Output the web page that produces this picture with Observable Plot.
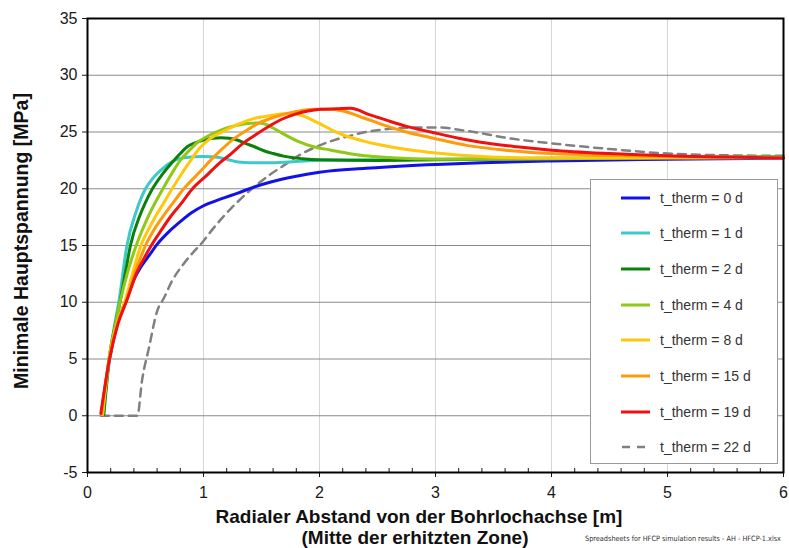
<!DOCTYPE html>
<html>
<head>
<meta charset="utf-8">
<script src="https://cdn.jsdelivr.net/npm/d3@7"></script>
<script src="https://cdn.jsdelivr.net/npm/@observablehq/plot@0.6"></script>
<style>
  html, body { margin: 0; padding: 0; background: #fff; }
  #wrap { position: relative; width: 789px; height: 548px; overflow: hidden; font-family: "Liberation Sans", Arial, sans-serif; }
  .title { position: absolute; font-weight: bold; color: #111; white-space: nowrap; }
  #legend { position: absolute; left: 590px; top: 179px; width: 186px; height: 283px; background: #fff; border: 1px solid #9a9a9a; }
  .item { position: absolute; left: 0; height: 20px; display: flex; align-items: center; }
  .item span { position: absolute; left: 69px; font-size: 14px; color: #333; white-space: nowrap; }
  .item svg { position: absolute; left: 30px; }
  #caption { position: absolute; top: 533px; left: 585px; font-family: "Liberation Sans Narrow", "DejaVu Sans Condensed", "Open Sans", sans-serif; font-size: 9px; line-height: 11px; color: #333; white-space: nowrap; transform-origin: 0 50%; }
</style>
</head>
<body>
<div id="wrap"></div>
<script>
// ---- data ----
const series = ["t_therm = 0 d","t_therm = 1 d","t_therm = 2 d","t_therm = 4 d","t_therm = 8 d","t_therm = 15 d","t_therm = 19 d","t_therm = 22 d"];

const x_0d = [0.12,0.19,0.26,0.34,0.40,0.46,0.53,0.60,0.70,0.80,0.90,1.00,1.15,1.29,1.45,1.58,1.80,2.00,2.40,2.80,3.40,4.00,5.00,6.00];
const y_0d = [0.2,5.0,8.2,10.4,12.0,13.1,14.1,15.1,16.2,17.1,17.9,18.5,19.1,19.6,20.2,20.6,21.1,21.45,21.8,22.05,22.3,22.45,22.6,22.7];

const x_1d = [0.14,0.19,0.23,0.27,0.34,0.42,0.50,0.57,0.65,0.75,0.85,1.00,1.10,1.20,1.30,1.40,1.60,1.80,2.00,3.00,4.00,5.00,6.00];
const y_1d = [0.1,5.0,7.8,10.0,15.0,18.0,20.0,21.0,21.8,22.5,22.75,22.85,22.8,22.6,22.35,22.3,22.3,22.4,22.5,22.6,22.7,22.75,22.8];

const x_2d = [0.14,0.19,0.24,0.28,0.33,0.37,0.45,0.50,0.56,0.64,0.72,0.80,0.86,0.93,1.00,1.08,1.15,1.22,1.29,1.36,1.44,1.52,1.60,1.70,1.85,2.00,2.50,3.00,4.00,5.00,6.00];
const y_2d = [0.1,5.3,8.0,10.0,12.8,15.0,17.6,18.8,20.0,21.2,22.2,23.1,23.7,24.05,24.3,24.45,24.5,24.45,24.3,24.0,23.7,23.35,23.1,22.85,22.65,22.55,22.5,22.55,22.65,22.75,22.8];

const x_4d = [0.13,0.19,0.24,0.28,0.35,0.42,0.53,0.65,0.73,0.80,0.88,0.95,1.03,1.11,1.20,1.29,1.38,1.47,1.53,1.60,1.67,1.74,1.81,1.95,2.10,2.25,2.39,2.60,2.81,3.20,4.00,5.00,6.00];
const y_4d = [0.1,5.3,8.0,10.0,12.8,15.0,17.7,20.0,21.4,22.5,23.4,24.1,24.6,25.0,25.35,25.6,25.75,25.8,25.7,25.35,24.95,24.55,24.2,23.7,23.4,23.1,22.9,22.75,22.65,22.6,22.65,22.75,22.8];

const x_8d = [0.13,0.19,0.26,0.32,0.39,0.46,0.53,0.60,0.66,0.73,0.81,0.89,0.96,1.03,1.10,1.18,1.30,1.44,1.58,1.70,1.78,1.85,1.93,2.01,2.12,2.24,2.38,2.53,2.75,2.96,3.39,4.00,5.00,6.00];
const y_8d = [0.1,5.3,8.3,10.0,12.6,15.0,16.5,17.8,18.8,20.0,21.3,22.5,23.5,24.2,24.7,25.1,25.7,26.2,26.45,26.6,26.6,26.45,26.1,25.7,25.1,24.6,24.2,23.85,23.45,23.2,22.85,22.7,22.7,22.75];

const x_15d = [0.12,0.19,0.26,0.33,0.41,0.50,0.58,0.66,0.74,0.83,0.98,1.06,1.15,1.26,1.38,1.48,1.58,1.67,1.80,1.95,2.08,2.18,2.27,2.36,2.45,2.53,2.75,2.96,3.28,3.60,4.00,4.50,5.00,6.00];
const y_15d = [0.1,5.2,8.2,10.0,12.6,15.0,16.5,17.7,18.8,20.0,21.6,22.5,23.4,24.4,25.2,25.8,26.2,26.5,26.8,27.0,27.0,26.9,26.65,26.3,26.0,25.7,25.0,24.5,23.8,23.4,23.1,22.95,22.85,22.75];

const x_19d = [0.115,0.19,0.26,0.34,0.42,0.50,0.55,0.62,0.72,0.80,0.905,1.03,1.13,1.24,1.34,1.44,1.58,1.67,1.80,1.90,2.01,2.15,2.27,2.33,2.41,2.50,2.59,2.75,2.96,3.20,3.39,3.70,4.00,4.50,5.00,5.50,6.00];
const y_19d = [0.2,5.0,8.0,10.2,12.5,14.1,15.0,16.1,17.6,18.6,20.0,21.2,22.2,23.1,24.0,24.7,25.6,26.1,26.6,26.85,27.0,27.05,27.1,26.95,26.6,26.3,26.0,25.5,25.0,24.45,24.1,23.7,23.4,23.1,22.9,22.8,22.7];

const x_22d = [0.115,0.43,0.47,0.53,0.60,0.66,0.73,0.83,0.92,1.00,1.06,1.15,1.24,1.29,1.43,1.58,1.67,1.80,1.95,2.10,2.24,2.40,2.53,2.70,2.90,3.05,3.20,3.39,3.60,4.00,4.50,5.00,5.50,6.00];
const y_22d = [0.0,0.0,3.1,6.0,9.2,10.4,11.9,13.4,14.5,15.4,16.2,17.3,18.3,18.8,20.1,21.3,21.9,22.8,23.6,24.2,24.6,25.0,25.2,25.35,25.4,25.4,25.2,24.9,24.5,24.0,23.5,23.1,22.95,22.9];

const xTicks = [0,1,2,3,4,5,6];
const xMinor = [0.2,0.4,0.6,0.8,1.2,1.4,1.6,1.8,2.2,2.4,2.6,2.8,3.2,3.4,3.6,3.8,4.2,4.4,4.6,4.8,5.2,5.4,5.6,5.8];
const xGrid = [1,2,3,4,5];
const yTicks = [-5,0,5,10,15,20,25,30,35];

const yTitle = "Minimale Hauptspannung [MPa]";
const xTitle1 = "Radialer Abstand von der Bohrlochachse [m]";
const xTitle2 = "(Mitte der erhitzten Zone)";
const caption = "Spreadsheets for HFCP simulation results - AH - HFCP-1.xlsx";

// ---- build table ----
const xs = [x_0d,x_1d,x_2d,x_4d,x_8d,x_15d,x_19d,x_22d];
const ys = [y_0d,y_1d,y_2d,y_4d,y_8d,y_15d,y_19d,y_22d];
const rows = [];
series.forEach((s, i) => xs[i].forEach((x, j) => rows.push({series: s, x, y: ys[i][j]})));
const solid = rows.filter(d => d.series !== series[7]);
const dashed = rows.filter(d => d.series === series[7]);

const colors = ["#1212e6","#3fc8c8","#0b800b","#8fc815","#ffc80a","#ff9a0a","#f01010","#808080"];

const chart = Plot.plot({
  width: 789, height: 548,
  marginLeft: 87, marginRight: 6, marginTop: 18, marginBottom: 76,
  x: {domain: [0, 6]},
  y: {domain: [-5, 35]},
  color: {domain: series, range: colors},
  style: {fontFamily: "'Liberation Sans', Arial, sans-serif", fontSize: "16px", color: "#1a1a1a", background: "white", overflow: "visible"},
  marks: [
    Plot.gridX({ticks: xGrid, stroke: "#d6d6d6", strokeOpacity: 1, strokeWidth: 1}),
    Plot.gridY({ticks: yTicks, stroke: "#8a8a8a", strokeOpacity: 1, strokeWidth: 1.2}),
    Plot.line(dashed, {x: "x", y: "y", stroke: "#808080", strokeWidth: 2.5, strokeDasharray: "8,6", curve: "monotone-x"}),
    Plot.line(solid, {x: "x", y: "y", z: "series", stroke: "series", strokeWidth: 3, curve: "monotone-x"}),
    Plot.axisX({ticks: xTicks, tickSize: 5, tickPadding: 9, label: null, fontSize: 16, tickFormat: d => String(d)}),
    Plot.axisX({ticks: xMinor, tickSize: 4, dy: -4, tickFormat: () => "", label: null}),
    Plot.axisY({ticks: yTicks, tickSize: 5, tickPadding: 5, label: null, fontSize: 16, tickFormat: d => String(d)}),
    Plot.frame({stroke: "black", strokeWidth: 2})
  ]
});

const wrap = document.getElementById("wrap");
wrap.appendChild(chart);

// titles
function addText(txt, css) {
  const d = document.createElement("div");
  d.className = "title";
  d.textContent = txt;
  Object.assign(d.style, css);
  wrap.appendChild(d);
  return d;
}
addText(yTitle, {fontSize: "19.5px", left: "21px", top: "241px", transform: "translate(-50%,-50%) rotate(-90deg)"});
addText(xTitle1, {fontSize: "19px", left: "419px", top: "506px", transform: "translateX(-50%)"});
addText(xTitle2, {fontSize: "19px", left: "415px", top: "527px", transform: "translateX(-50%)"});

// caption: fit to ~196 px, like the reference
const cap = document.createElement("div");
cap.id = "caption";
cap.textContent = caption;
wrap.appendChild(cap);
const natural = cap.getBoundingClientRect().width;
if (natural > 196) cap.style.fontSize = (9 * 196 / natural).toFixed(2) + "px";

// legend
const legend = document.createElement("div");
legend.id = "legend";
wrap.appendChild(legend);
series.forEach((s, i) => {
  const it = document.createElement("div");
  it.className = "item";
  it.style.top = (7.5 + i * 35.7) + "px";
  const sv = d3.create("svg").attr("width", 30).attr("height", 20);
  const ln = sv.append("line").attr("x1", 0).attr("x2", 29).attr("y1", 10).attr("y2", 10)
    .attr("stroke", colors[i]).attr("stroke-width", i === 7 ? 2.5 : 3);
  if (i === 7) ln.attr("stroke-dasharray", "8,7").attr("x1", 1).attr("x2", 24);
  it.appendChild(sv.node());
  const sp = document.createElement("span");
  sp.textContent = s;
  it.appendChild(sp);
  legend.appendChild(it);
});
</script>
</body>
</html>
